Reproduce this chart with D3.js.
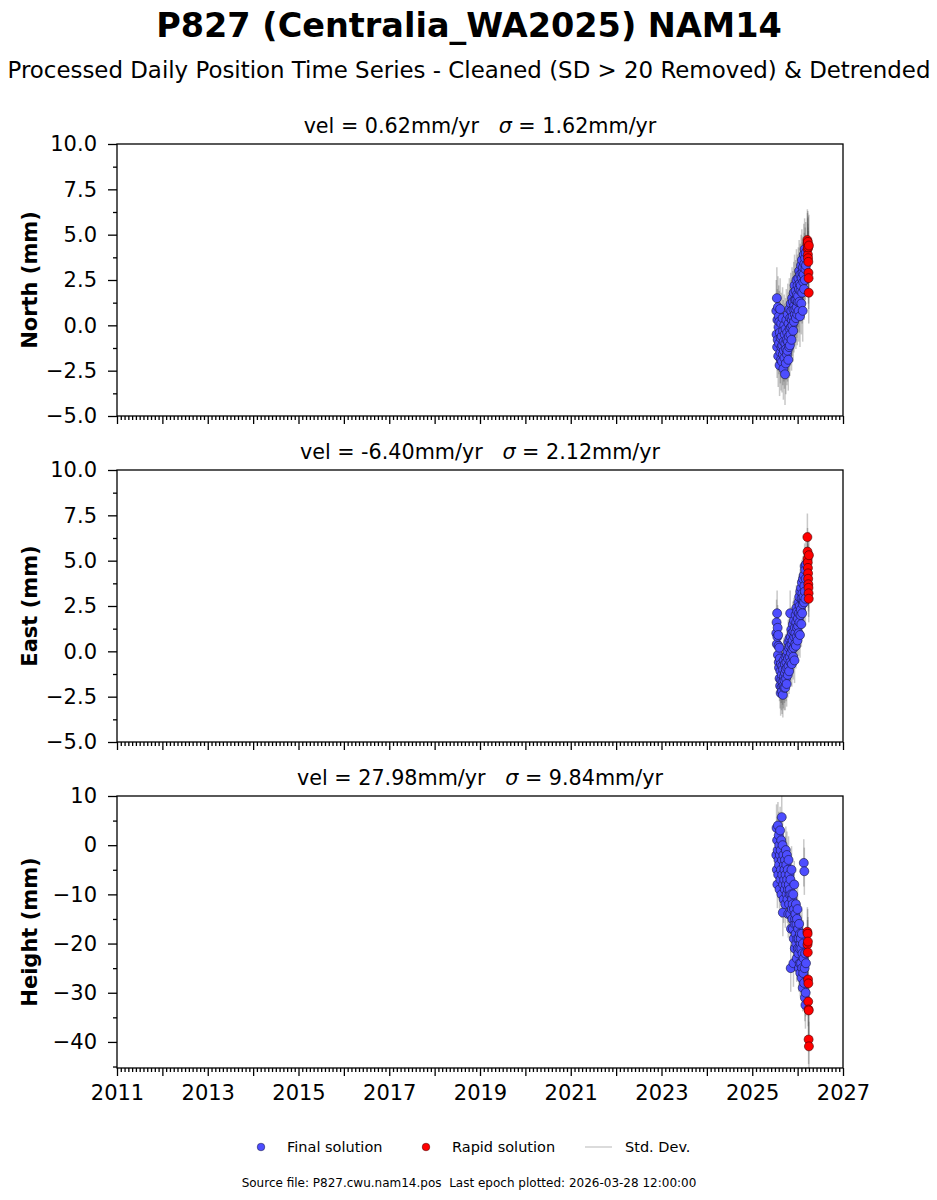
<!DOCTYPE html>
<html>
<head>
    <style>
        body {
            margin: 0;
            background: #fff;
        }
        svg text {
            font-family: "DejaVu Sans", sans-serif;
            fill: #000;
        }
    </style>
</head>
<body>
    <svg width="937" height="1200"></svg>

    <script src="https://d3js.org/d3.v7.min.js"></script>
    <script>
        // Epochs (decimal year)
        const finalDates = [
            2025.530, 2025.536, 2025.542, 2025.548, 2025.554, 2025.560, 2025.566, 2025.572, 2025.578, 2025.584,
            2025.590, 2025.596, 2025.602, 2025.608, 2025.614, 2025.620, 2025.626, 2025.632, 2025.638, 2025.644,
            2025.650, 2025.656, 2025.662, 2025.668, 2025.674, 2025.680, 2025.686, 2025.692, 2025.698, 2025.704,
            2025.710, 2025.716, 2025.722, 2025.728, 2025.734, 2025.740, 2025.746, 2025.752, 2025.758, 2025.764,
            2025.770, 2025.776, 2025.782, 2025.788, 2025.794, 2025.800, 2025.806, 2025.812, 2025.818, 2025.824,
            2025.830, 2025.836, 2025.842, 2025.848, 2025.854, 2025.860, 2025.866, 2025.872, 2025.878, 2025.884,
            2025.890, 2025.896, 2025.902, 2025.908, 2025.914, 2025.920, 2025.926, 2025.932, 2025.938, 2025.944,
            2025.950, 2025.956, 2025.962, 2025.968, 2025.974, 2025.980, 2025.986, 2025.992, 2025.998, 2026.004,
            2026.010, 2026.016, 2026.022, 2026.028, 2026.034, 2026.040, 2026.046, 2026.052, 2026.058, 2026.064,
            2026.070, 2026.076, 2026.082, 2026.088, 2026.094, 2026.100, 2026.106, 2026.112, 2026.118, 2026.124,
            2026.130, 2026.136, 2026.142, 2026.148, 2026.154, 2026.160, 2026.166, 2026.172, 2026.178, 2026.184
        ];
        const rapidDates = [
            2026.215, 2026.218, 2026.221, 2026.224, 2026.227, 2026.230,
            2026.233, 2026.236, 2026.239, 2026.242, 2026.245, 2026.249
        ];

        // North (mm)
        const northFinal = [
            0.8, -0.5, 1.5, -1.2, 0.3, -0.8, 1.0, -1.7, -0.1, 0.5,
            -1.0, 0.2, -2.2, -0.4, 0.9, -1.5, -0.7, -1.9, 0.1, -1.2,
            -0.6, -2.0, -1.1, 0.4, -1.6, -0.3, -2.4, -0.9, -1.4, 0.0,
            -1.8, -0.5, -2.7, -1.0, -0.2, -2.1, -1.3, 0.3, -0.8, -1.6,
            -0.4, -1.4, 0.6, -0.9, -1.9, 0.1, -0.6, -1.2, 0.9, -0.2,
            -1.1, 0.4, -0.5, 1.2, -0.1, 0.8, -0.8, 0.3, 1.5, 0.0,
            0.5, 1.3, -0.3, 0.9, 1.8, 0.2, 1.1, 2.2, 0.6, 1.4,
            0.9, 1.9, 0.4, 1.4, 2.5, 1.0, 1.7, 0.6, 2.2, 1.3,
            1.6, 2.6, 0.8, 2.0, 3.0, 1.3, 2.3, 0.5, 2.8, 1.9,
            2.2, 3.3, 1.2, 2.6, 3.6, 1.8, 2.9, 0.8, 3.2, 2.4,
            2.8, 3.9, 2.0, 3.4, 4.2, 2.5, 3.7, 3.1, 4.0, 3.3
        ];
        const northRapid = [4.7, 4.5, 4.2, 4.6, 3.9, 3.7, 4.3, 3.5, 2.9, 2.6, 1.8, 4.4];

        // East (mm)
        const eastFinal = [
            1.0, 1.6, 0.4, 2.1, 0.8, 1.3, -0.2, 0.9, 0.3, -0.6,
            -0.9, 0.2, -1.5, -0.4, -1.9, -1.1, -2.3, -0.7, -1.6, -2.0,
            -1.3, -2.2, -0.8, -1.7, -2.4, -1.0, -1.9, -0.5, -1.4, -2.0,
            -1.6, -0.7, -1.2, -2.0, -0.3, -1.0, -1.5, -0.6, -1.8, -0.2,
            -0.9, 0.0, -1.3, -0.4, 0.5, -0.8, 0.2, -1.1, 0.7, -0.3,
            0.3, 2.1, -0.6, 0.8, -0.1, 1.2, 0.4, -0.7, 1.0, 0.1,
            0.6, 1.5, -0.3, 1.1, 0.2, 1.7, 0.8, -0.5, 1.3, 0.4,
            1.0, 2.0, 0.3, 1.6, 2.4, 0.8, 1.3, 2.2, 0.6, 1.8,
            1.4, 2.7, 1.0, 2.1, 3.0, 1.6, 2.5, 0.9, 3.3, 2.0,
            2.3, 3.5, 1.5, 2.9, 3.8, 2.1, 3.2, 2.6, 4.0, 2.8,
            3.0, 4.2, 2.7, 3.6, 4.7, 3.3, 4.5, 2.9, 4.0, 4.8
        ];
        const eastRapid = [6.3, 5.5, 5.1, 4.9, 4.6, 4.3, 4.0, 3.7, 3.5, 3.2, 2.9, 5.3];

        // Height (mm)
        const heightFinal = [
            -2, 3.5, -5, 1, -8, -1, 4, -6, -3, 2,
            -4, 0, -9, -2, 3, -7, -1, -5, 1, -10,
            5.7, -3, -6, 0, -13.7, -8, -2, -11, -4, -7,
            -5, -9, -3, -12, -6, -1, -8, -4, -10, -2,
            -7, -11, -5, -9, -14, -3, -8, -12, -6, -10,
            -9, -14, -7, -25, -17, -10, -5, -13, -11, -15,
            -12, -17, -10, -24, -19, -13, -8, -16, -21, -15,
            -14, -18, -12, -20, -16, -23, -15, -19, -13, -21,
            -17, -22, -19, -25, -16, -21, -24, -18, -26, -20,
            -19, -24, -21, -27, -18, -25, -22, -29, -20, -26,
            -23, -3.6, -28, -5.3, -25, -31, -22, -32.5, -30, -24
        ];
        const heightRapid = [-17.6, -20.2, -18.0, -21.8, -19.6, -27.3, -31.8, -28.1, -33.4, -39.5, -33.6, -40.9];

        // Per-component settings
        const components = ["North", "East", "Height"];
        const velocities = ["0.62", "-6.40", "27.98"];
        const sigmas = ["1.62", "2.12", "9.84"];
        const finalSd = [1.7, 1.25, 4.8];
        const rapidSd = [1.7, 1.3, 5.0];
        const yDomains = [[-5, 10], [-5, 10], [-45.3, 10]];
        const finalSeries = [northFinal, eastFinal, heightFinal];
        const rapidSeries = [northRapid, eastRapid, heightRapid];

        const svg = d3.select("svg");
        const left = 117, right = 843;
        const panelTops = [144, 470, 796];
        const panelH = 272;

        // Titles
        svg.append("text")
            .attr("x", 469).attr("y", 37)
            .attr("text-anchor", "middle")
            .attr("font-size", 33.5).attr("font-weight", "bold")
            .text("P827 (Centralia_WA2025) NAM14");
        svg.append("text")
            .attr("x", 469).attr("y", 78)
            .attr("text-anchor", "middle")
            .attr("font-size", 22.9)
            .text("Processed Daily Position Time Series - Cleaned (SD > 20 Removed) & Detrended");

        const x = d3.scaleLinear().domain([2011, 2027]).range([left, right]);
        const xMajor = d3.range(2011, 2027.5, 1);
        const xMinor = d3.range(0, 16 * 12 + 1).map(i => 2011 + i / 12).filter(v => Math.abs(v - Math.round(v)) > 1e-6);

        components.forEach((name, k) => {
            const top = panelTops[k];
            const y = d3.scaleLinear().domain(yDomains[k]).range([top + panelH, top]);
            const g = svg.append("g");

            g.append("clipPath").attr("id", "clip" + k)
                .append("rect")
                .attr("x", left).attr("y", top)
                .attr("width", right - left).attr("height", panelH);

            const plot = g.append("g").attr("clip-path", `url(#clip${k})`);

            // std dev bars
            plot.append("g")
                .selectAll("line")
                .data(finalDates.map((d, i) => [d, finalSeries[k][i], finalSd[k]])
                    .concat(rapidDates.map((d, i) => [d, rapidSeries[k][i], rapidSd[k]])))
                .join("line")
                .attr("x1", d => x(d[0])).attr("x2", d => x(d[0]))
                .attr("y1", d => y(d[1] - d[2])).attr("y2", d => y(d[1] + d[2]))
                .attr("stroke", "#4a4a4a")
                .attr("stroke-opacity", 0.3)
                .attr("stroke-width", 1.5);

            // final solutions
            plot.append("g")
                .selectAll("circle")
                .data(finalDates.map((d, i) => [d, finalSeries[k][i]]))
                .join("circle")
                .attr("cx", d => x(d[0])).attr("cy", d => y(d[1]))
                .attr("r", 4.5)
                .attr("fill", "#4d4dff")
                .attr("stroke", "#14143a")
                .attr("stroke-width", 0.6);

            // rapid solutions
            plot.append("g")
                .selectAll("circle")
                .data(rapidDates.map((d, i) => [d, rapidSeries[k][i]]))
                .join("circle")
                .attr("cx", d => x(d[0])).attr("cy", d => y(d[1]))
                .attr("r", 4.5)
                .attr("fill", "#ff0000")
                .attr("stroke", "#400000")
                .attr("stroke-width", 0.6);

            // y axis
            const isHeight = k === 2;
            const yMajor = isHeight ? d3.range(-40, 10.1, 10) : d3.range(-5, 10.1, 2.5);
            const yMinor = isHeight ? d3.range(-45, 10.1, 10) : d3.range(-3.75, 10, 2.5);
            const yFmt = isHeight ? d3.format("d") : d3.format(".1f");

            const yAxis = g.append("g")
                .attr("transform", `translate(${left},0)`)
                .call(d3.axisLeft(y).tickValues(yMajor).tickFormat(yFmt).tickSize(9).tickPadding(11));
            yAxis.select(".domain").remove();
            yAxis.selectAll("text").attr("font-size", 21).attr("font-family", "DejaVu Sans");

            const yAxisMinor = g.append("g")
                .attr("transform", `translate(${left},0)`)
                .call(d3.axisLeft(y).tickValues(yMinor).tickFormat("").tickSize(4));
            yAxisMinor.select(".domain").remove();

            // x axis
            const xAxis = g.append("g")
                .attr("transform", `translate(0,${top + panelH})`)
                .call(d3.axisBottom(x).tickValues(xMajor)
                    .tickFormat(d => (k === 2 && (d - 2011) % 2 === 0) ? String(d) : "")
                    .tickSize(8).tickPadding(9));
            xAxis.select(".domain").remove();
            xAxis.selectAll("text").attr("font-size", 21).attr("font-family", "DejaVu Sans");

            const xAxisMinor = g.append("g")
                .attr("transform", `translate(0,${top + panelH})`)
                .call(d3.axisBottom(x).tickValues(xMinor).tickFormat("").tickSize(4));
            xAxisMinor.select(".domain").remove();

            g.selectAll(".tick line").attr("stroke", "#000").attr("stroke-width", 1.3);

            // frame
            g.append("rect")
                .attr("x", left).attr("y", top)
                .attr("width", right - left).attr("height", panelH)
                .attr("fill", "none")
                .attr("stroke", "#000")
                .attr("stroke-width", 1.3);

            // panel title
            const t = g.append("text")
                .attr("x", (left + right) / 2).attr("y", top - 11)
                .attr("text-anchor", "middle")
                .attr("font-size", 20.7)
                .style("white-space", "pre");
            t.append("tspan").text(`vel = ${velocities[k]}mm/yr   `);
            t.append("tspan").attr("font-style", "italic").text("σ");
            t.append("tspan").text(` = ${sigmas[k]}mm/yr`);

            // y label
            g.append("text")
                .attr("transform", `translate(37,${top + panelH / 2}) rotate(-90)`)
                .attr("text-anchor", "middle")
                .attr("font-size", 21).attr("font-weight", "bold")
                .text(`${name} (mm)`);
        });

        // Legend
        const legend = svg.append("g");
        legend.append("circle").attr("cx", 261).attr("cy", 1147).attr("r", 3.8)
            .attr("fill", "#4d4dff").attr("stroke", "#14143a").attr("stroke-width", 0.5);
        legend.append("text").attr("x", 287).attr("y", 1152).attr("font-size", 14.5).text("Final solution");
        legend.append("circle").attr("cx", 426).attr("cy", 1147).attr("r", 3.8)
            .attr("fill", "#ff0000").attr("stroke", "#400000").attr("stroke-width", 0.5);
        legend.append("text").attr("x", 452).attr("y", 1152).attr("font-size", 14.5).text("Rapid solution");
        legend.append("line").attr("x1", 585).attr("x2", 612).attr("y1", 1147).attr("y2", 1147)
            .attr("stroke", "#cfcfcf").attr("stroke-width", 1.5);
        legend.append("text").attr("x", 625).attr("y", 1152).attr("font-size", 14.5).text("Std. Dev.");

        // Footer
        svg.append("text")
            .attr("x", 469).attr("y", 1187)
            .attr("text-anchor", "middle")
            .attr("font-size", 12)
            .style("white-space", "pre")
            .text("Source file: P827.cwu.nam14.pos  Last epoch plotted: 2026-03-28 12:00:00");
    </script>
</body>
</html>
